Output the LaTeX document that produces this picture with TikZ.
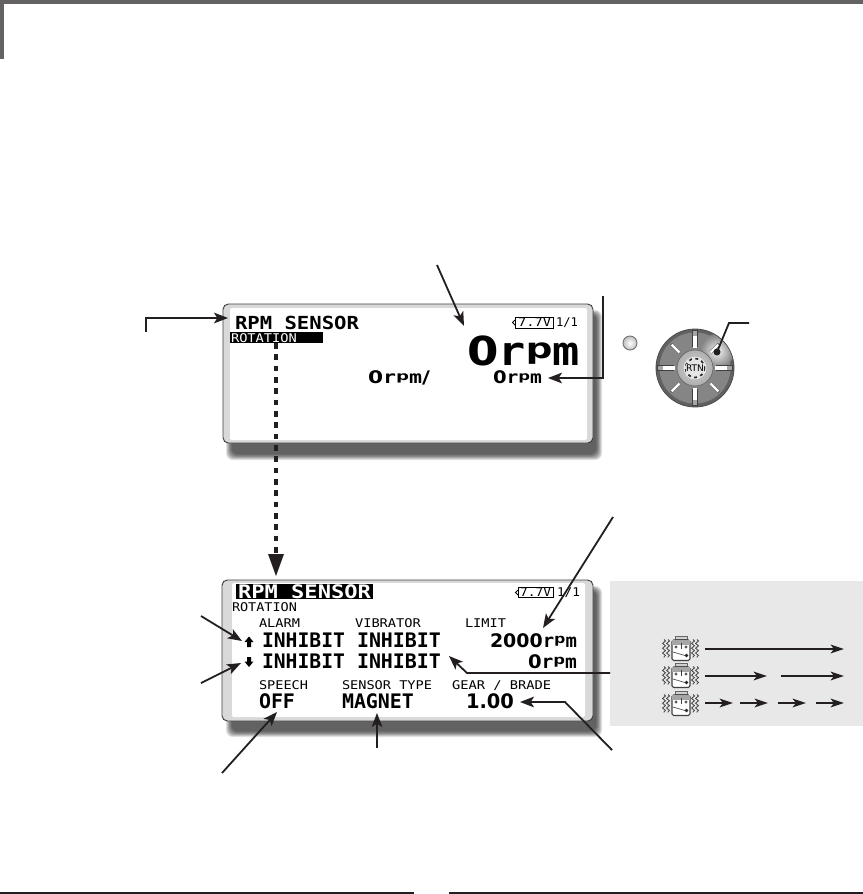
\documentclass[tikz,border=0pt]{standalone}
\usepackage{graphicx}
\usepackage{fontspec}
\usetikzlibrary{arrows.meta,decorations.pathmorphing,calc}
\newfontfamily\lcdmono{DejaVu Sans Mono}
\newfontfamily\lcdsans{DejaVu Sans}
\newdimen\lcdpx \lcdpx=0.75pt
\definecolor{headgray}{HTML}{656263}
\definecolor{inkblack}{HTML}{231F20}
\definecolor{panelgray}{HTML}{E8E8E8}
\definecolor{framegray}{HTML}{D9D9D9}
% \lcd[colour]{name}{x}{y}{width px}{font}{text}
\newcommand\lcd[7][black]{\node[lcdtext,text=#1] (#2) at (#3,#4) {\resizebox{#5\lcdpx}{\height}{#6#7}};}
\newcommand\fsz[1]{\fontsize{#1pt}{#1pt}\selectfont}
\newcommand\lcdm[1]{\lcdmono\fsz{#1}}
\newcommand\lcdmb[1]{\lcdmono\bfseries\fsz{#1}}
\newcommand\lcdb[1]{\lcdsans\bfseries\fsz{#1}}
\newcommand\rpmword{{\lcdmono r\raisebox{0.165em}{\scalebox{1}[0.7]{p}}m}}
\newcommand\softshadow[4]{%
  \foreach \i in {0,...,7}{%
    \fill[black,opacity=0.11,rounded corners=5] (#1+\i*0.8,#2+\i*0.6) rectangle (#3-\i*0.8,#4-\i*0.8);
  }}
\tikzset{
  lcdtext/.style={anchor=base west,inner sep=0pt,outer sep=0pt},
  callout/.style={draw=inkblack,line width=1.35pt,-{Stealth[length=10.5pt,width=8pt,inset=2.5pt]}},
  bandarrow/.style={draw=inkblack,line width=1.5pt,-{Stealth[length=10pt,width=6.5pt,inset=2.5pt]}},
  screenframe/.style={fill=framegray,draw=black!75,line width=0.7pt,rounded corners=4},
  screenface/.style={fill=white,rounded corners=1.5},
  blackbar/.style={fill=black,inner sep=0pt,outer sep=0pt,anchor=north west},
  wiggle/.style={draw=black!75,line width=0.6pt,decorate,decoration={snake,amplitude=1.1pt,segment length=3.6pt}},
  pics/radio/.style={code={
    \foreach \sx in {-17,-13,12,16}{\draw[wiggle] (\sx,-8.5) -- (\sx,9.5);}
    \draw[black!60,fill=black!18,line width=0.5pt] (-6,-8.5) rectangle (6,-12);
    \draw[black!75,fill=white,line width=0.8pt,rounded corners=1.2] (-9,-8) rectangle (9,12.5);
    \fill[black!35] (-9,-8) rectangle (9,-3.5);
    \fill[black!65] (-5,-1) circle (1.7) (5,-1) circle (1.7);
    \draw[black!75,line width=0.6pt] (0,-5) -- (0,1);
    \draw[black!70,line width=0.5pt] (-8,4) -- (4,7.5);
    \fill[black!85] (5.5,7.5) circle (1.9);
  }}
}
\begin{document}
\begin{tikzpicture}[x=0.75pt,y=-0.75pt]
\useasboundingbox (0,0) rectangle (863,894);
\fill[white] (0,0) rectangle (863,894);

% page furniture
\fill[headgray] (0,0) rectangle (863,4);
\fill[headgray] (0,0) rectangle (4,59);
\fill[inkblack] (0,892) rectangle (414,894);
\fill[inkblack] (449,892) rectangle (863,894);

% tinted panel
\fill[panelgray] (610,581) rectangle (863,726);

% ---------- upper screen ----------
\softshadow{226}{310}{602}{460}
\draw[screenframe] (223,304) rectangle (593,443);
\fill[screenface] (230,308) rectangle (587,440);
\lcd{titleA}{235}{329}{124}{\lcdmb{13.5}}{RPM SENSOR}
\node[blackbar,minimum width=70pt,minimum height=8.25pt] (rotbarA) at (230,332) {};
\lcd[white]{rotA}{231}{342}{66}{\lcdm{9}}{ROTATION}
\draw[black,line width=0.6pt] (515,317) rectangle (553,328);
\draw[black,line width=0.6pt] (515,320) -- (512.5,322.5) -- (515,325);
\lcd{battA}{518}{326.5}{33}{\lcdm{9}}{7.7V}
\lcd{pageA}{556}{326.5}{22}{\lcdm{9}}{1/1}
\lcd{bigrpm}{467}{365}{113}{\lcdb{30}}{0\rpmword}
\lcd{maxrpm}{368}{383}{62}{\lcdb{13}}{0\rpmword/}
\lcd{currpm}{493}{383}{49}{\lcdb{13}}{0\rpmword}

% ---------- lower screen ----------
\softshadow{226}{586}{602}{737}
\draw[screenframe] (222,580) rectangle (593,721);
\fill[screenface] (232,583) rectangle (585,717);
\node[blackbar,minimum width=102.75pt,minimum height=11.25pt] (titlebarB) at (236,584) {};
\lcd[white]{titleB}{238}{598}{133}{\lcdmb{14}}{RPM SENSOR}
\draw[black,line width=0.6pt] (518,587) rectangle (553,597.5);
\draw[black,line width=0.6pt] (518,590) -- (515.5,592.5) -- (518,595);
\lcd{battB}{520}{596}{31}{\lcdm{9}}{7.7V}
\lcd{pageB}{557}{596}{23}{\lcdm{9}}{1/1}
\lcd{rotB}{232}{611}{65}{\lcdm{9}}{ROTATION}
\lcd{alarm}{259}{627}{41}{\lcdm{9}}{ALARM}
\lcd{vibrator}{355}{627}{66}{\lcdm{9}}{VIBRATOR}
\lcd{limit}{465}{627}{41}{\lcdm{9}}{LIMIT}
\lcd{alarmup}{262}{647}{83}{\lcdmb{15}}{INHIBIT}
\lcd{vibup}{357}{647}{84}{\lcdmb{15}}{INHIBIT}
\lcd{limup}{490}{647}{87}{\lcdb{14}}{2000\rpmword}
\lcd{alarmdn}{262}{668}{83}{\lcdmb{15}}{INHIBIT}
\lcd{vibdn}{357}{668}{84}{\lcdmb{15}}{INHIBIT}
\lcd{limdn}{528}{668}{49}{\lcdb{14}}{0\rpmword}
\lcd{speech}{259}{689}{49}{\lcdm{9}}{SPEECH}
\lcd{sensor}{342}{689}{90}{\lcdm{9}}{SENSOR TYPE}
\lcd{gear}{452}{689}{99}{\lcdm{9}}{GEAR / BRADE}
\lcd{off}{259}{708}{36}{\lcdmb{15}}{OFF}
\lcd{magnet}{342}{708}{72}{\lcdmb{15}}{MAGNET}
\lcd{ratio}{466}{708}{48}{\lcdb{15}}{1.00}
% up and down markers
\fill[black] (249,636.5) -- (253.5,642) -- (251,642) -- (251,647) -- (247,647) -- (247,642) -- (244.5,642) -- cycle;
\fill[black] (249,667) -- (253.5,661.5) -- (251,661.5) -- (251,657) -- (247,657) -- (247,661.5) -- (244.5,661.5) -- cycle;

% ---------- dial ----------
\node[circle,minimum size=10.5pt,inner sep=0pt,draw=black!55,line width=0.7pt,inner color=white,outer color=black!25] (button) at (630,343) {};
\node[circle,minimum size=58.5pt,inner sep=0pt,fill=black!62,draw=black!70,line width=0.6pt] (dial) at (695,368) {};
\fill[black!48] (695,368) circle (35.5);
\begin{scope}
  \clip (695,368) circle (38.5);
  \shade[inner color=white,outer color=black!48,opacity=0.9] (717,351) circle (17);
\end{scope}
\foreach \a in {0,90,180,270}{
  \draw[black!75,line width=4pt] ($(695,368)+(\a:21)$) -- ($(695,368)+(\a:38)$);
  \draw[white,line width=2.8pt] ($(695,368)+(\a:20)$) -- ($(695,368)+(\a:32)$);
  \draw[black!35,line width=2.8pt] ($(695,368)+(\a:32)$) -- ($(695,368)+(\a:37.3)$);
}
\foreach \a in {45,135,225,315}{
  \draw[black!60,line width=2.6pt] ($(695,368)+(\a:22)$) -- ($(695,368)+(\a:34)$);
  \draw[white,line width=1.8pt] ($(695,368)+(\a:22)$) -- ($(695,368)+(\a:33)$);
}
\fill[black!30] (695,368) circle (18);
\draw[black!60,line width=0.5pt] (695,368) circle (18);
\fill[black!28] (695,368) circle (15);
\fill[black!10] (695,368) circle (11.5);
\draw[black!85,line width=1.2pt,dash pattern=on 2.2pt off 2.6pt] (695,368) circle (9.5);
\fill[black!10] (686,364) rectangle (704,372);
\node[inner sep=0pt,font=\lcdsans\fontsize{6.8pt}{7pt}\selectfont] (rtn) at (695,368) {RTN};
\coordinate (dialcorner) at (729,323);
\coordinate (dialfree) at (749,323);
\coordinate (dialdot) at (717,352);
\draw[inkblack,line width=1.35pt] (dialfree) -- (dialcorner) -- (dialdot);
\fill[inkblack] (dialdot) circle (3.5);

% ---------- connectors ----------
\coordinate (freeTitle) at (146,332);
\coordinate (tipTitle) at (228,318);
\draw[callout] (freeTitle) |- (tipTitle);

\coordinate (freeBig) at (437,265);
\coordinate (tipBig) at (464,326);
\draw[callout] (freeBig) -- (tipBig);

\coordinate (freeCur) at (603,296);
\coordinate (tipCur) at (548,378);
\draw[callout] (freeCur) |- (tipCur);

\coordinate (dotTop) at (276,343);
\coordinate (dotEnd) at (276,554);
\coordinate (dotTip) at (276,576);
\draw[inkblack,line width=3pt,dash pattern=on 4.2pt off 4.3pt] (dotTop) -- (dotEnd);
\fill[inkblack] (268,554) -- (284,554) -- (dotTip) -- cycle;

\coordinate (freeLimit) at (613,517);
\coordinate (tipLimit) at (543,628);
\draw[callout] (freeLimit) -- (tipLimit);

\coordinate (freeUp) at (201,616);
\coordinate (tipUp) at (242,641);
\draw[callout] (freeUp) -- (tipUp);

\coordinate (freeDn) at (201,683);
\coordinate (tipDn) at (241,663);
\draw[callout] (freeDn) -- (tipDn);

\coordinate (freeVib) at (610,673);
\coordinate (bendVib) at (467,673);
\coordinate (tipVib) at (449,656);
\draw[callout] (freeVib) -- (bendVib) -- (tipVib);

\coordinate (freeSpeech) at (222,773);
\coordinate (tipSpeech) at (277,712);
\draw[callout] (freeSpeech) -- (tipSpeech);

\coordinate (freeSensor) at (377,748);
\coordinate (tipSensor) at (377,713);
\draw[callout] (freeSensor) -- (tipSensor);

\coordinate (freeGear) at (612,750);
\coordinate (bendGear) at (565,702);
\coordinate (tipGear) at (520,702);
\draw[callout] (freeGear) -- (bendGear) -- (tipGear);

% ---------- vibration patterns ----------
\pic at (681,648) {radio};
\pic at (681,675) {radio};
\pic at (681,703) {radio};
\foreach \xa/\xb/\yy in {705/844/649, 705/767/676, 781/844/676, 705/733/703, 740/768/703, 778/806/703, 816/844/703}{
  \coordinate (ba) at (\xa,\yy);
  \coordinate (bb) at (\xb,\yy);
  \draw[bandarrow] (ba) -- (bb);
}
\end{tikzpicture}
\end{document}
